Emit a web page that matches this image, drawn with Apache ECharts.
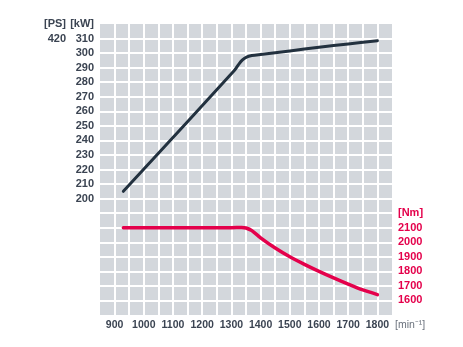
<!DOCTYPE html>
<html><head><meta charset="utf-8">
<script src="https://cdn.jsdelivr.net/npm/echarts@6/dist/echarts.min.js"></script>
<style>html,body{margin:0;padding:0;background:#fff}#c{width:463px;height:347px}</style>
</head><body><div id="c"></div>
<script>
// Data
var rpmPower = [930, 1310, 1325, 1338, 1352, 1370, 1400, 1500, 1600, 1700, 1800];
var powerKW  = [205, 288, 292.3, 295.3, 297.3, 298.3, 299.1, 301.5, 304, 306.3, 308.5];
var rpmTorque = [930, 1100, 1300, 1335, 1350, 1370, 1400, 1450, 1500, 1550, 1600, 1650, 1700, 1750, 1800];
var torqueNm  = [2100, 2100, 2100, 2102, 2098, 2080, 2030, 1960, 1900, 1848, 1800, 1755, 1712, 1672, 1640];
var rpmTicks = [900, 1000, 1100, 1200, 1300, 1400, 1500, 1600, 1700, 1800];
var kwTicks = [200, 210, 220, 230, 240, 250, 260, 270, 280, 290, 300, 310];
var nmTicks = [1600, 1700, 1800, 1900, 2000, 2100];
var psLabels = {310: '420', 320: '[PS]'};
var unitKW = '[kW]', unitNm = '[Nm]', unitRpm = '[min\u207B\u00B9]';

var font = '"Liberation Sans Narrow", "Arial Narrow", "Liberation Sans", sans-serif';
var dark = '#3b4452', red = '#e4004b';

function pairs(xs, ys){ return xs.map(function(x,i){ return [x, ys[i]]; }); }

var chart = echarts.init(document.getElementById('c'));
chart.setOption({
  animation: false,
  grid: {left: 100, right: 71, top: 24, bottom: 32, show: true, backgroundColor: '#d3d7dc', borderWidth: 0},
  xAxis: {
    type: 'value', min: 850, max: 1850, interval: 50,
    axisLine: {show: false}, axisTick: {show: false},
    splitLine: {show: true, showMinLine: false, showMaxLine: false, lineStyle: {color: '#ffffff', width: 2}},
    axisLabel: {margin: 5, color: dark, fontFamily: font, fontSize: 10.5, fontWeight: 'bold',
      formatter: function(v){ return rpmTicks.indexOf(v) >= 0 ? String(v) : ''; }},
    name: unitRpm, nameLocation: 'end', nameGap: 2,
    nameTextStyle: {color: '#6a717c', fontFamily: font, fontSize: 10.5, align: 'left', verticalAlign: 'top', padding: [5, 0, 0, 0]}
  },
  yAxis: [
    {type: 'value', position: 'left', min: 120, max: 320, interval: 10,
      axisLine: {show: false}, axisTick: {show: false},
      splitLine: {show: true, showMinLine: false, showMaxLine: false, lineStyle: {color: '#ffffff', width: 2}},
      axisLabel: {margin: 6, color: dark, fontFamily: font, fontSize: 11, fontWeight: 'bold',
        formatter: function(v){ if (v === 320) return unitKW; return kwTicks.indexOf(v) >= 0 ? String(v) : ''; }}},
    {type: 'value', position: 'left', offset: 28, min: 120, max: 320, interval: 10,
      axisLine: {show: false}, axisTick: {show: false}, splitLine: {show: false},
      axisLabel: {margin: 6, color: dark, fontFamily: font, fontSize: 11, fontWeight: 'bold',
        formatter: function(v){ return psLabels[v] || ''; }}},
    {type: 'value', position: 'right', min: 1500, max: 3500, interval: 100,
      axisLine: {show: false}, axisTick: {show: false}, splitLine: {show: false},
      axisLabel: {margin: 6, color: red, fontFamily: font, fontSize: 11, fontWeight: 'bold',
        formatter: function(v){ if (v === 2200) return unitNm; return nmTicks.indexOf(v) >= 0 ? String(v) : ''; }}}
  ],
  series: [
    {type: 'line', yAxisIndex: 0, data: pairs(rpmPower, powerKW), showSymbol: false, symbol: 'none',
      smooth: 0.3, lineStyle: {color: '#22313f', width: 3, cap: 'round', join: 'round'}},
    {type: 'line', yAxisIndex: 2, data: pairs(rpmTorque, torqueNm), showSymbol: false, symbol: 'none',
      smooth: 0.25, lineStyle: {color: red, width: 3.5, cap: 'round', join: 'round'}}
  ]
});
</script></body></html>
